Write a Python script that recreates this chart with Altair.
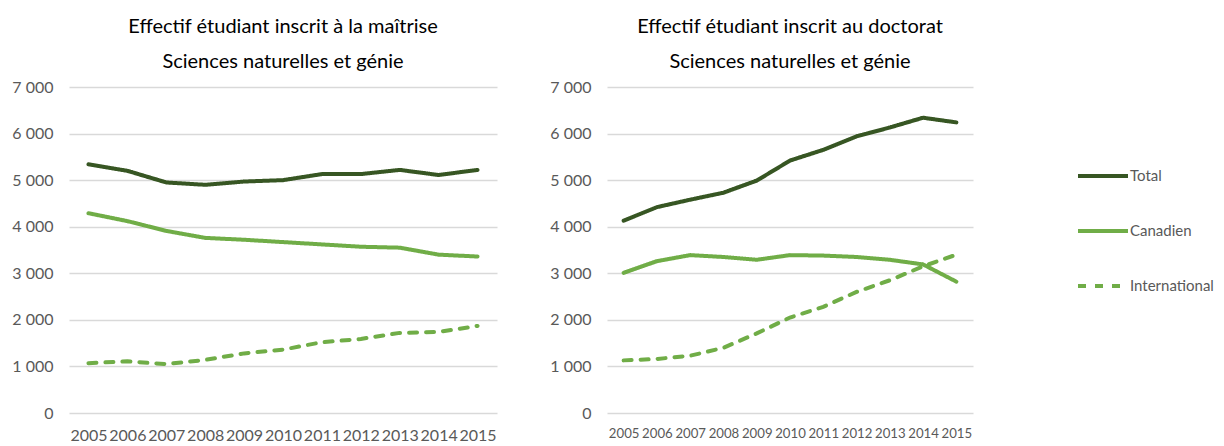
import altair as alt
import pandas as pd

years = [str(y) for y in range(2005, 2016)]
series = ["Total", "Canadien", "International"]

# Maîtrise
m_total = [5340, 5200, 4950, 4900, 4970, 5000, 5130, 5130, 5220, 5110, 5220]
m_canadien = [4290, 4120, 3910, 3760, 3720, 3670, 3620, 3570, 3550, 3400, 3360]
m_international = [1070, 1110, 1050, 1140, 1280, 1360, 1520, 1590, 1720, 1740, 1870]

# Doctorat
d_total = [4130, 4420, 4580, 4730, 4990, 5420, 5650, 5940, 6130, 6340, 6240]
d_canadien = [3010, 3260, 3390, 3350, 3290, 3390, 3380, 3350, 3290, 3190, 2820]
d_international = [1130, 1160, 1230, 1400, 1710, 2050, 2280, 2600, 2850, 3150, 3400]

title_left = ["Effectif étudiant inscrit à la maîtrise", "Sciences naturelles et génie"]
title_right = ["Effectif étudiant inscrit au doctorat", "Sciences naturelles et génie"]

colors = ["#375623", "#70AD47", "#70AD47"]
dashes = [[1, 0], [1, 0], [8, 9]]


def make_df(t, c, i):
    rows = []
    for name, vals in zip(series, [t, c, i]):
        for y, v in zip(years, vals):
            rows.append({"Année": y, "Série": name, "Valeur": v})
    return pd.DataFrame(rows)


FONT = "Lato"
label_expr = "replace(format(datum.value, ','), ',', ' ')"


def panel(df, title, width, show_legend, xfont, xpad):
    legend = None
    if show_legend:
        legend = alt.Legend(
            title=None, orient="none", legendX=469, legendY=62,
            symbolType="stroke", symbolSize=2500, symbolStrokeWidth=4,
            labelFont=FONT, labelFontSize=15, labelColor="#595959",
            labelOffset=0, rowPadding=20, padding=0,
        )
    return alt.Chart(df).mark_line(strokeWidth=4, strokeCap="round").encode(
        x=alt.X("Année:O", sort=years,
                scale=alt.Scale(type="point", padding=0.5),
                axis=alt.Axis(title=None, labelAngle=0, domain=False, ticks=False,
                              grid=False, labelFont=FONT, labelFontSize=xfont,
                              labelColor="#595959", labelPadding=xpad)),
        y=alt.Y("Valeur:Q", scale=alt.Scale(domain=[0, 7000]),
                axis=alt.Axis(title=None, values=[0, 1000, 2000, 3000, 4000, 5000, 6000, 7000],
                              labelExpr=label_expr, domain=False, ticks=False,
                              gridColor="#D9D9D9", gridWidth=1.5,
                              labelFont=FONT, labelFontSize=16, labelColor="#595959",
                              labelPadding=16, minExtent=52, maxExtent=52)),
        color=alt.Color("Série:N", scale=alt.Scale(domain=series, range=colors), legend=legend),
        strokeDash=alt.StrokeDash("Série:N", scale=alt.Scale(domain=series, range=dashes), legend=legend),
        order=alt.Order("Année:O"),
    ).properties(
        width=width, height=326,
        title=alt.TitleParams(title, font=FONT, fontSize=20, fontWeight="normal",
                              color="#000000", lineHeight=35, offset=7, anchor="middle"),
    )


left = panel(make_df(m_total, m_canadien, m_international), title_left, 428, False, 16, 14)
right = panel(make_df(d_total, d_canadien, d_international), title_right, 366, True, 13.2, 14)

chart = alt.hconcat(left, right, spacing=52).resolve_scale(
    color="independent", strokeDash="independent"
).resolve_legend(color="independent", strokeDash="independent").properties(
    padding={"left": 3, "top": 9, "right": 0, "bottom": 0}
).configure_view(stroke=None)

chart.save("out.html", embed_options={"renderer": "svg", "actions": False})
